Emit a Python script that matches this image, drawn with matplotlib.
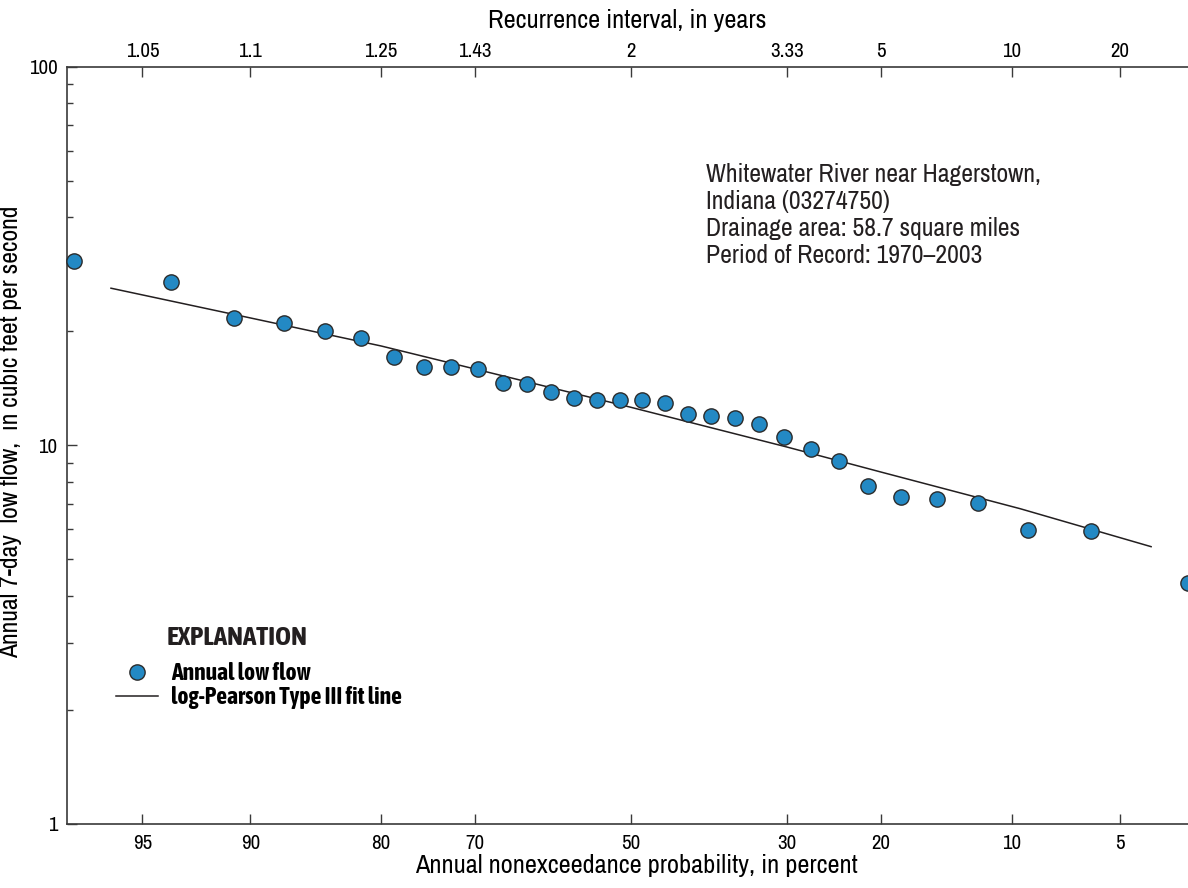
"""
Annual 7-day low flow frequency plot, Whitewater River near Hagerstown, Indiana.
"""

from statistics import NormalDist

import numpy as np
import matplotlib
matplotlib.use("Agg")
import matplotlib.pyplot as plt
from matplotlib import font_manager
from matplotlib.lines import Line2D
from matplotlib.ticker import FixedLocator, NullLocator, LogLocator, NullFormatter

# --- data -----------------------------------------------------------------
# nonexceedance probability (percent) of each ranked annual low flow
nonexceed_pct = [96.97, 93.94, 90.91, 87.88, 84.85, 81.82, 78.79, 75.76,
                 72.73, 69.70, 66.67, 63.64, 60.61, 57.58, 54.55, 51.52,
                 48.48, 45.45, 42.42, 39.39, 36.36, 33.33, 30.30, 27.27,
                 24.24, 21.21, 18.18, 15.15, 12.12, 9.09, 6.06, 3.03]
# annual 7-day low flow, cubic feet per second
low_flow = [30.7, 27.0, 21.7, 21.0, 20.0, 19.2, 17.1, 16.1,
            16.1, 15.9, 14.6, 14.5, 13.8, 13.35, 13.2, 13.2,
            13.2, 12.9, 12.08, 11.93, 11.8, 11.4, 10.5, 9.78,
            9.11, 7.79, 7.31, 7.22, 7.04, 5.98, 5.95, 4.34]

# log-Pearson Type III fit line, read at several probabilities
fit_pct = [96.0, 90.0, 80.0, 70.0, 50.0, 30.0, 20.0, 9.5, 4.0]
fit_flow = [26.0, 21.7, 18.3, 15.9, 12.6, 9.9, 8.5, 6.8, 5.4]

prob_ticks = [95, 90, 80, 70, 50, 30, 20, 10, 5]
prob_labels = ["95", "90", "80", "70", "50", "30", "20", "10", "5"]
recurrence_labels = ["1.05", "1.1", "1.25", "1.43", "2", "3.33", "5", "10", "20"]

site_text = ("Whitewater River near Hagerstown,\n"
             "Indiana (03274750)\n"
             "Drainage area: 58.7 square miles\n"
             "Period of Record: 1970\u20132003")

DOT_COLOR = "#2389c4"
INK = "#231f20"


# --- fonts: a condensed face if one is installed ----------------------------
def _weight(f):
    w = f.weight
    if isinstance(w, str):
        w = font_manager.weight_dict.get(w, 400)
    return w


ttfs = font_manager.fontManager.ttflist
narrow_names = sorted({f.name for f in ttfs
                       if "narrow" in f.name.lower() or "condensed" in f.name.lower()})
names = {f.name for f in ttfs}

FONT = ["DejaVu Sans"]
if narrow_names:
    FONT = [narrow_names[0], "DejaVu Sans"]
elif "Liberation Sans" in names:
    FONT = ["Liberation Sans", "DejaVu Sans"]

# bold condensed if possible, otherwise plain Liberation Sans bold
bold_narrow = [n for n in narrow_names
               if any(f.name == n and _weight(f) >= 600 for f in ttfs)]
if bold_narrow:
    BOLD_FONT, BOLD_SCALE = [bold_narrow[0], "DejaVu Sans"], 1.0
elif "Liberation Sans" in names:
    BOLD_FONT, BOLD_SCALE = ["Liberation Sans", "DejaVu Sans"], 0.78
else:
    BOLD_FONT, BOLD_SCALE = ["DejaVu Sans"], 0.72

plt.rcParams["font.family"] = FONT

# --- normal probability scale ---------------------------------------------
_nd = NormalDist()


def pct_to_z(p):
    p = np.clip(np.asarray(p, dtype=float), 1e-4, 100 - 1e-4)
    return np.vectorize(_nd.inv_cdf, otypes=[float])(p / 100.0)


def z_to_pct(z):
    return 100.0 * np.vectorize(_nd.cdf, otypes=[float])(np.asarray(z, dtype=float))


XLIM = (97.12, 3.04)


def setup_prob_axis(a):
    a.set_xscale("function", functions=(pct_to_z, z_to_pct))
    a.set_xlim(*XLIM)
    a.xaxis.set_major_locator(FixedLocator(prob_ticks))
    a.xaxis.set_minor_locator(NullLocator())


def main():
    fig = plt.figure(figsize=(11.88, 8.88), dpi=100)
    ax = fig.add_axes([0.0564, 0.0721, 0.9436, 0.8528])

    setup_prob_axis(ax)
    ax.set_xticklabels(prob_labels)

    ax.set_yscale("log")
    ax.set_ylim(1, 100)
    ax.yaxis.set_major_locator(FixedLocator([1, 10, 100]))
    ax.set_yticklabels(["1", "10", "100"])
    ax.yaxis.set_minor_locator(LogLocator(base=10, subs=np.arange(2, 10)))
    ax.yaxis.set_minor_formatter(NullFormatter())

    ax.plot(fit_pct, fit_flow, color=INK, lw=1.1, zorder=2)
    ax.plot(nonexceed_pct, low_flow, ls="none", marker="o", ms=11,
            mfc=DOT_COLOR, mec="#2b2b2b", mew=1.0, zorder=3, clip_on=False)

    for s in ["left", "top", "bottom"]:
        ax.spines[s].set_color("#3a3a3a")
        ax.spines[s].set_linewidth(1.2)
    ax.spines["right"].set_visible(False)

    ax.tick_params(axis="x", which="major", direction="in", length=7,
                   width=1.0, color="#3a3a3a", labelsize=15, pad=7)
    ax.tick_params(axis="y", which="major", direction="in", length=7,
                   width=1.0, color="#3a3a3a", labelsize=15, pad=7)
    ax.tick_params(axis="y", which="minor", direction="in", length=4,
                   width=1.0, color="#3a3a3a")

    # recurrence interval on the top
    top = ax.twiny()
    setup_prob_axis(top)
    top.set_xticklabels(recurrence_labels)
    top.tick_params(axis="x", direction="in", length=7, width=1.0,
                    color="#3a3a3a", labelsize=15, pad=4)
    for s in top.spines.values():
        s.set_visible(False)
    top.set_xlabel("Recurrence interval, in years", fontsize=19, labelpad=10)

    ax.set_xlabel("Annual nonexceedance probability, in percent",
                  fontsize=19, labelpad=3)
    ax.xaxis.set_label_coords(0.508, -0.040)
    ax.set_ylabel("Annual 7-day  low flow,  in cubic feet per second",
                  fontsize=18.5)
    ax.yaxis.set_label_coords(-0.040, 0.518)

    ax.text(0.570, 0.873, site_text, transform=ax.transAxes, fontsize=18.5,
            va="top", ha="left", linespacing=1.22, color=INK)

    # explanation
    ax.text(0.089, 0.246, "EXPLANATION", transform=ax.transAxes,
            family=BOLD_FONT, fontsize=19.5 * BOLD_SCALE, fontweight="bold",
            va="center", ha="left", color=INK)
    handles = [
        Line2D([], [], ls="none", marker="o", ms=11, mfc=DOT_COLOR,
               mec="#2b2b2b", mew=1.0),
        Line2D([], [], color=INK, lw=1.1),
    ]
    ax.legend(handles, ["Annual low flow", "log-Pearson Type III fit line"],
              loc="upper left", bbox_to_anchor=(0.044, 0.214), frameon=False,
              borderpad=0, borderaxespad=0, handlelength=1.78 / BOLD_SCALE,
              handletextpad=0.55 / BOLD_SCALE, labelspacing=0.05,
              prop={"family": BOLD_FONT, "weight": "bold",
                    "size": 17 * BOLD_SCALE})

    fig.savefig("out.png", dpi=100)


if __name__ == "__main__":
    main()
